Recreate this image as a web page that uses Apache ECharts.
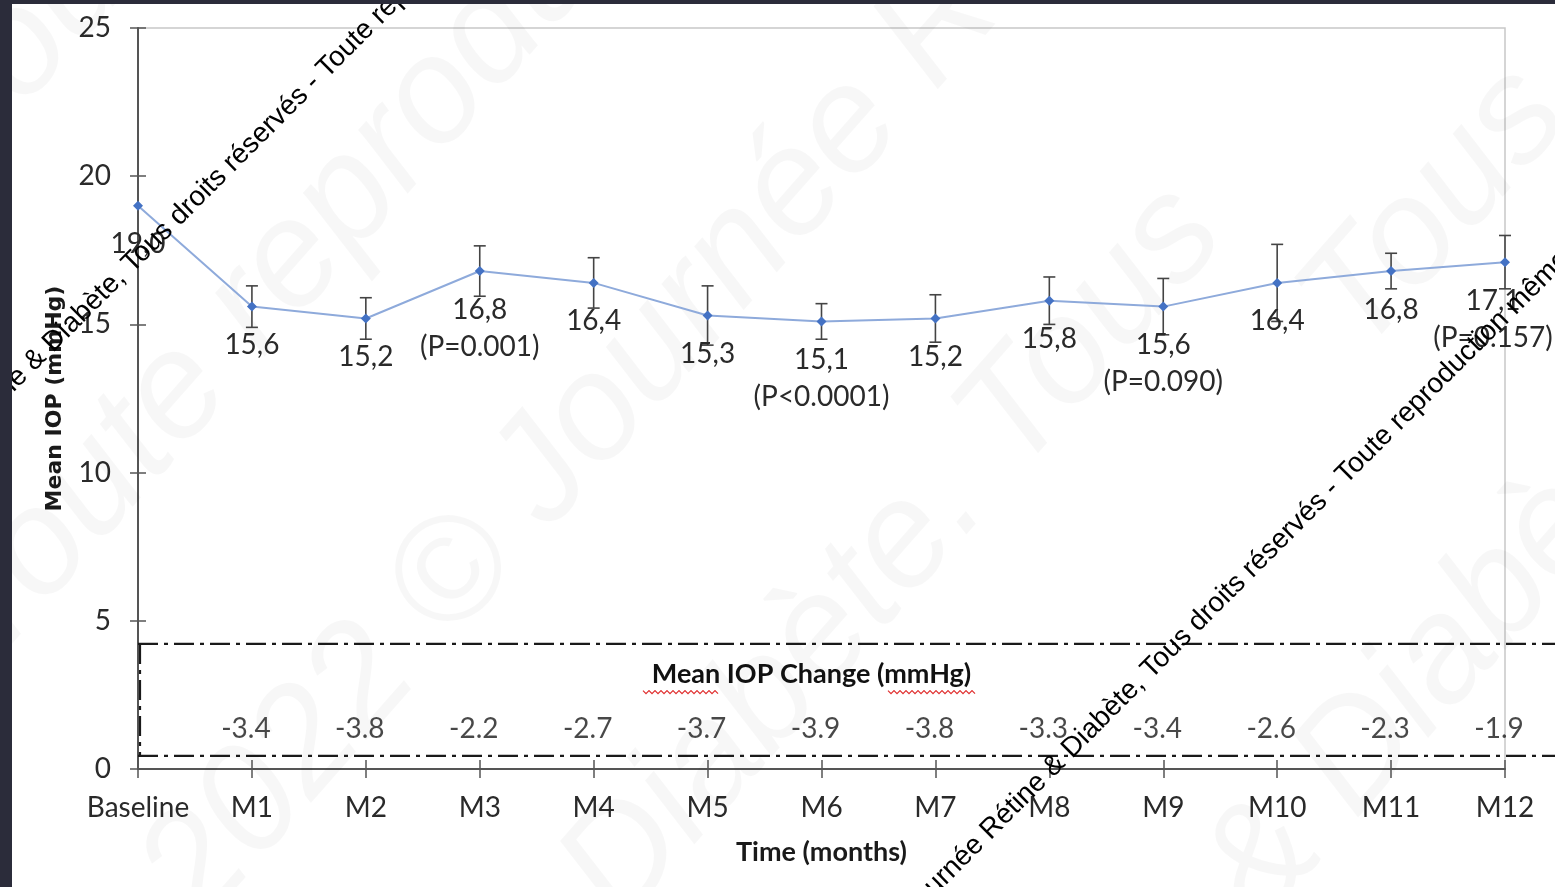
<!DOCTYPE html>
<html><head><meta charset="utf-8">
<script src="https://cdn.jsdelivr.net/npm/echarts@6/dist/echarts.min.js"></script>
<style>html,body{margin:0;padding:0;background:#fff;overflow:hidden}#c{width:1555px;height:887px}</style>
</head><body><div id="c"></div>
<script>
// ---- data ----
const categories = ['Baseline','M1','M2','M3','M4','M5','M6','M7','M8','M9','M10','M11','M12'];
const meanIOP   = [19.0, 15.6, 15.2, 16.8, 16.4, 15.3, 15.1, 15.2, 15.8, 15.6, 16.4, 16.8, 17.1];
const errIOP    = [0,    0.7,  0.7,  0.85, 0.85, 1.0,  0.6,  0.8,  0.8,  0.95, 1.3,  0.6,  0.9];
const pValues   = ['', '', '', 'P=0.001', '', '', 'P<0.0001', '', '', 'P=0.090', '', '', 'P=0.157'];
const changeIOP = [null, -3.4, -3.8, -2.2, -2.7, -3.7, -3.9, -3.8, -3.3, -3.4, -2.6, -2.3, -1.9];
const yTicks    = [0, 5, 10, 15, 20, 25];

const FONT = 'Lato';
const FS = 28;
const chart = echarts.init(document.getElementById('c'), null, {renderer: 'canvas'});

const lineData = meanIOP.map((v, i) => {
  const item = {value: v};
  if (i === categories.length - 1) item.label = {offset: [-12, 0]};
  return item;
});
const errData = meanIOP.map((v, i) => [i, v, errIOP[i]]);
const CHANGE_ROW = 1.35;
const changeData = changeIOP.map((v, i) => v === null ? null : {value: [i, CHANGE_ROW], chg: v}).filter(d => d);

const option = {
  animation: false,
  backgroundColor: '#fff',
  grid: {left: 138, right: 50, top: 28, bottom: 118, show: true, borderColor: '#c8c8c8', borderWidth: 1.5, backgroundColor: 'transparent'},
  xAxis: [{
    type: 'category', data: categories, boundaryGap: false,
    axisLine: {lineStyle: {color: '#555', width: 2}},
    axisTick: {show: true, length: 9, interval: 0, lineStyle: {color: '#555', width: 1.5}},
    axisLabel: {color: '#2a2a2a', fontFamily: FONT, fontSize: FS, margin: 25, interval: 0},
    splitLine: {show: false},
    name: 'Time (months)', nameLocation: 'middle', nameGap: 70,
    nameTextStyle: {color: '#1a1a1a', fontFamily: FONT, fontSize: 27, fontWeight: 'bold'}
  }, {
    type: 'category', data: categories, boundaryGap: false, position: 'bottom',
    axisLine: {show: false}, axisLabel: {show: false}, splitLine: {show: false},
    axisTick: {show: true, inside: true, length: 9, interval: 0, lineStyle: {color: '#555', width: 1.5}}
  }],
  yAxis: [{
    type: 'value', min: 0, max: 25, interval: 5,
    axisLine: {show: true, lineStyle: {color: '#555', width: 2}},
    axisTick: {show: true, length: 8, lineStyle: {color: '#555', width: 1.5}},
    axisLabel: {color: '#2a2a2a', fontFamily: FONT, fontSize: FS, margin: 27,
      formatter: v => yTicks.includes(v) ? String(v) : ''},
    splitLine: {show: false},
    name: 'Mean IOP (mmHg)', nameLocation: 'middle', nameGap: 72,
    nameTextStyle: {color: '#1a1a1a', fontFamily: 'DejaVu Sans', fontSize: 22, fontWeight: 'bold'}
  }, {
    type: 'value', min: 0, max: 25, interval: 5, position: 'left',
    axisLine: {show: false}, axisLabel: {show: false}, splitLine: {show: false},
    axisTick: {show: true, inside: true, length: 8, lineStyle: {color: '#555', width: 1.5}}
  }],
  series: [{
    type: 'custom', name: 'err', xAxisIndex: 0, yAxisIndex: 0, z: 2,
    data: errData,
    renderItem: (params, api) => {
      const i = api.value(0), v = api.value(1), e = api.value(2);
      if (!e) return null;
      const top = api.coord([i, v + e]);
      const bot = api.coord([i, v - e]);
      const w = 6;
      const st = {stroke: '#444', lineWidth: 1.6};
      return {type: 'group', children: [
        {type: 'line', shape: {x1: top[0], y1: top[1], x2: bot[0], y2: bot[1]}, style: st},
        {type: 'line', shape: {x1: top[0]-w, y1: top[1], x2: top[0]+w, y2: top[1]}, style: st},
        {type: 'line', shape: {x1: bot[0]-w, y1: bot[1], x2: bot[0]+w, y2: bot[1]}, style: st}
      ]};
    }
  }, {
    type: 'line', name: 'Mean IOP', data: lineData, z: 3,
    symbol: 'diamond', symbolSize: 10, showSymbol: true,
    itemStyle: {color: '#4472c4'},
    lineStyle: {color: '#8eaadb', width: 2},
    label: {
      show: true, position: 'bottom', distance: 15,
      color: '#2a2a2a', fontFamily: FONT, fontSize: FS, lineHeight: 37, align: 'center',
      formatter: p => {
        const s = meanIOP[p.dataIndex].toFixed(1).replace('.', ',');
        const pv = pValues[p.dataIndex];
        return pv ? s + '\n(' + pv + ')' : s;
      }
    }
  }, {
    type: 'scatter', name: 'change', data: changeData, symbolSize: 1,
    itemStyle: {color: 'transparent'}, z: 4,
    label: {show: true, position: 'inside', offset: [-6, 0], color: '#1a1a1a',
      fontFamily: FONT, fontSize: FS,
      formatter: p => changeData[p.dataIndex].chg.toFixed(1)}
  }]
};
chart.setOption(option);

// ---- decoration: dash-dot box, title, watermarks ----
const BOX_TOP = 4.22, BOX_BOT = 0.44;
const pTop = chart.convertToPixel({gridIndex: 0}, [0, BOX_TOP]);
const pBot = chart.convertToPixel({gridIndex: 0}, [0, BOX_BOT]);
const pMid = chart.convertToPixel({gridIndex: 0}, [6, 3.25]);
const dashStyle = {stroke: '#1a1a1a', lineWidth: 2.2, lineDash: [20, 6, 4, 6]};

function zigzag(x1, x2, y) {
  const pts = [];
  for (let x = x1, k = 0; x <= x2; x += 3, k++) pts.push([x, y + (k % 2 ? 2 : -1)]);
  return pts;
}

const wmText = 'Journée Rétine & Diabète, Tous droits réservés - Toute reproduction même partielle interdite';
const faint = 'rgba(0,0,0,0.03)';
const bigFont = 'italic 150px "Liberation Sans"';

chart.setOption({graphic: [
  // frame bands
  {type: 'rect', shape: {x: 0, y: 0, width: 12, height: 887}, style: {fill: '#2b2c3a'}, z: 100},
  {type: 'rect', shape: {x: 0, y: 0, width: 1555, height: 4}, style: {fill: '#2b2c3a'}, z: 100},
  // faint large watermark
  {type: 'text', x: -40, y: 640, rotation: 0.85, z: 1, style: {text: 'Toute reproduction', font: bigFont, fill: faint, textVerticalAlign: 'middle'}},
  {type: 'text', x: 170, y: 900, rotation: 0.85, z: 1, style: {text: '2022 © Journée Rétine', font: bigFont, fill: faint, textVerticalAlign: 'middle'}},
  {type: 'text', x: 590, y: 900, rotation: 0.85, z: 1, style: {text: 'Diabète. Tous', font: bigFont, fill: faint, textVerticalAlign: 'middle'}},
  {type: 'text', x: 1230, y: 900, rotation: 0.85, z: 1, style: {text: '& Diabète', font: bigFont, fill: faint, textVerticalAlign: 'middle'}},
  {type: 'text', x: -60, y: 140, rotation: 0.85, z: 1, style: {text: 'Tous', font: bigFont, fill: faint, textVerticalAlign: 'middle'}},
  {type: 'text', x: 1330, y: 330, rotation: 0.85, z: 1, style: {text: 'Tous', font: bigFont, fill: faint, textVerticalAlign: 'middle'}},
  // dash-dot box
  {type: 'line', shape: {x1: pTop[0], y1: pTop[1], x2: 1555, y2: pTop[1]}, style: dashStyle, z: 50},
  {type: 'line', shape: {x1: pBot[0], y1: pBot[1], x2: 1555, y2: pBot[1]}, style: dashStyle, z: 50},
  {type: 'line', shape: {x1: pTop[0] + 2, y1: pTop[1], x2: pTop[0] + 2, y2: pBot[1]}, style: dashStyle, z: 50},
  {type: 'text', x: pMid[0] - 10, y: pMid[1] + 2, z: 50, style: {text: 'Mean IOP Change (mmHg)', font: 'bold 27px Lato', fill: '#111', textAlign: 'center', textVerticalAlign: 'middle'}},
  {type: 'polyline', shape: {points: zigzag(643, 718, pMid[1] + 19)}, style: {stroke: '#e03030', lineWidth: 1.2, fill: null}, z: 50},
  {type: 'polyline', shape: {points: zigzag(888, 975, pMid[1] + 19)}, style: {stroke: '#e03030', lineWidth: 1.2, fill: null}, z: 50},
  // black diagonal watermarks
  {type: 'text', x: -111, y: 506, rotation: Math.PI / 4, z: 90, style: {text: wmText, font: '28px "Liberation Sans"', fill: '#000', textVerticalAlign: 'middle'}},
  {type: 'text', x: 908, y: 912, rotation: Math.PI / 4, z: 90, style: {text: wmText, font: '28px "Liberation Sans"', fill: '#000', textVerticalAlign: 'middle'}}
]});
</script>
</body></html>
